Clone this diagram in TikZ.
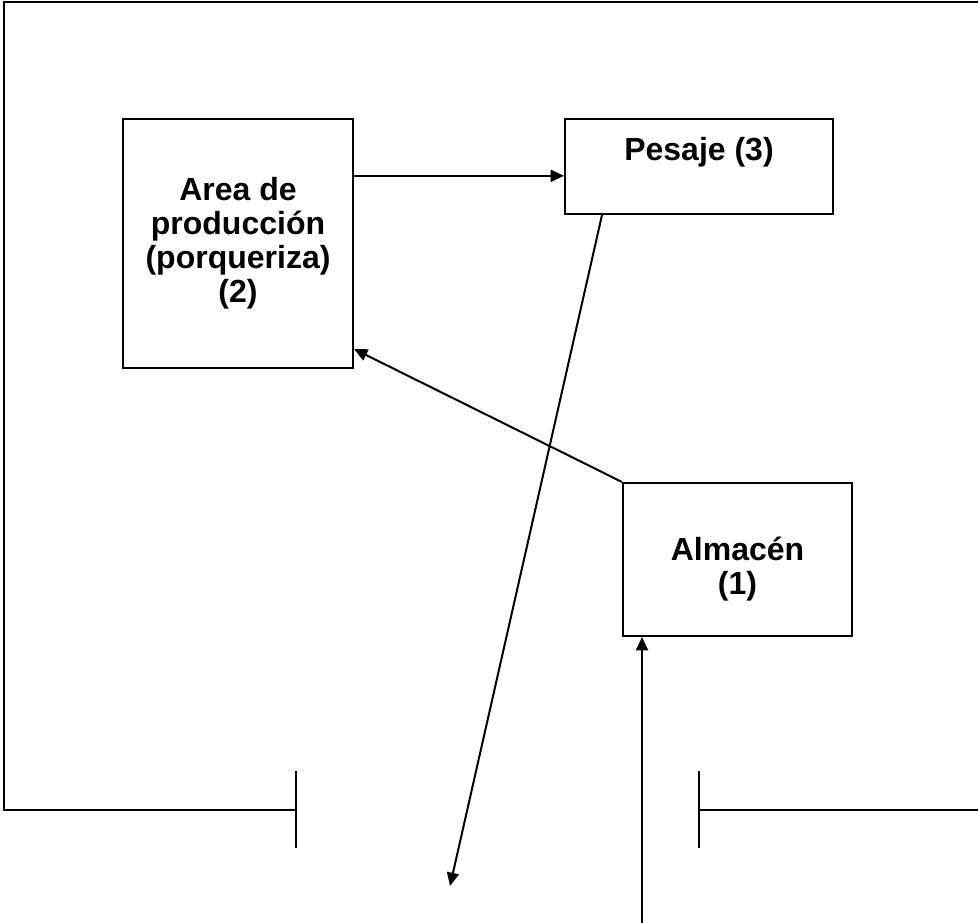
\documentclass[tikz,border=0pt]{standalone}
\usepackage{fontspec}
\setmainfont{Liberation Sans}
\usepackage{tikz}
\usetikzlibrary{arrows.meta,positioning}

\tikzset{
  caja/.style={draw=black, line width=1.5pt, inner sep=0pt, align=center,
    font=\bfseries\fontsize{24}{25.5}\selectfont},
  flecha/.style={line width=1.5pt, -{Triangle[length=10pt,width=9pt]}},
  muro/.style={line width=1.5pt}
}

\begin{document}
\begin{tikzpicture}[x=0.75pt, y=-0.75pt]
\useasboundingbox (0,0) rectangle (978,923);

\draw[muro] (296,810) -- (4,810) -- (4,2) -- (978,2);
\draw[muro] (699,810) -- (978,810);
\draw[muro] (296,771) -- (296,848);
\draw[muro] (699,771) -- (699,848);

\node[caja, minimum width=172.5pt, minimum height=186.75pt] (area) at (238,243.5) {Area de\\producci\'on\\(porqueriza)\\(2)};
\node[caja, minimum width=201pt, minimum height=71.25pt, text depth=27pt] (pesaje) at (699,166.5) {Pesaje (3)};
\node[caja, minimum width=171.75pt, minimum height=114.75pt, text height=57pt] (almacen) at (737.5,559.5) {Almac\'en\\(1)};

\coordinate (salida) at (450,886);
\coordinate (entrada) at (642,923);

\draw[flecha] ([yshift=-7pt]area.east |- pesaje.west) -- ([yshift=-7pt]pesaje.west);
\draw[flecha] ([xshift=28.5pt]pesaje.south west) -- (salida);
\draw[flecha] (almacen.north west) -- ([yshift=15pt]area.south east);
\draw[flecha] (entrada) -- (entrada |- almacen.south);
\end{tikzpicture}
\end{document}
